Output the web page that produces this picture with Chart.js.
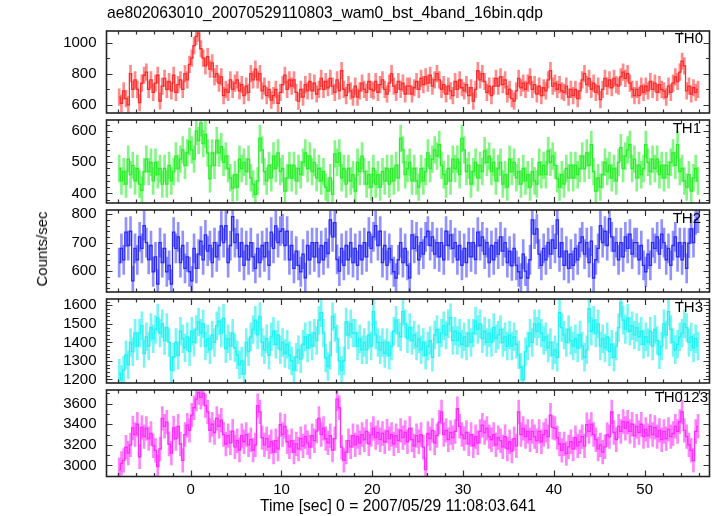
<!DOCTYPE html>
<html>
<head>
<meta charset="utf-8">
<script src="https://cdn.jsdelivr.net/npm/chart.js@4/dist/chart.umd.min.js"></script>
<style>
  html, body { margin: 0; padding: 0; background: #fff; }
  #wrap { position: relative; width: 717px; height: 516px; background: #fff; overflow: hidden;
          font-family: "Liberation Sans", Arial, Helvetica, sans-serif; color: #000; }
  canvas { position: absolute; left: 0; }
  .txt { position: absolute; font-size: 15px; line-height: 18px; white-space: nowrap; z-index: 5; }
  .big { font-size: 15.7px; }
</style>
</head>
<body>
<div id="wrap">
  <canvas id="c0" width="717" height="120"></canvas>
  <canvas id="c1" width="717" height="121"></canvas>
  <canvas id="c2" width="717" height="120"></canvas>
  <canvas id="c3" width="717" height="122"></canvas>
  <canvas id="c4" width="717" height="145"></canvas>
  <div class="txt big" id="title" style="left:107px; top:4px;"></div>
  <div class="txt" id="ytitle" style="left:41.5px; top:248.5px; transform:translate(-50%,-50%) rotate(-90deg);"></div>
  <div class="txt big" id="xtitle" style="left:260px; top:497px;"></div>
  <div class="txt" id="lab0" style="right:14px; top:29px;"></div>
  <div class="txt" id="lab1" style="right:16px; top:119px;"></div>
  <div class="txt" id="lab2" style="right:16px; top:209px;"></div>
  <div class="txt" id="lab3" style="right:14px; top:298px;"></div>
  <div class="txt" id="lab4" style="right:9px; top:388px;"></div>
</div>
<script>
// ---------- text ----------
const TITLE = "ae802063010_20070529110803_wam0_bst_4band_16bin.qdp";
const Y_TITLE = "Counts/sec";
const X_TITLE = "Time [sec] 0 = 2007/05/29 11:08:03.641";
const SERIES_NAMES = ["TH0", "TH1", "TH2", "TH3", "TH0123"];

// ---------- time bins (0.25 s bins, first bin centre) ----------
const BIN_START = -7.875;
const BIN_WIDTH = 0.25;

// ---------- series values (counts/sec), 4 bins per second from t=-8 ----------
const TH0 = [
 650,610,690,640, 600,800,700,760, 700,615,740,790, 810,700,760,680,
 740,790,625,720, 770,700,750,690, 790,680,730,760, 700,800,760,860,
 900,980,1040,1060, 960,900,850,910, 830,870,780,800, 740,780,660,700,
 680,760,700,740, 760,690,730,660, 720,680,800,760, 830,760,800,690,
 720,660,700,630, 660,700,610,680, 730,790,700,760, 720,760,680,624,
 700,650,730,690, 750,690,740,670, 700,770,700,750, 710,770,720,680,
 760,690,820,700, 660,730,690,650, 720,650,690,740, 700,680,750,700,
 690,750,680,730, 760,700,670,740, 800,720,680,750, 700,740,670,720,
 720,670,710,750, 700,770,730,780, 740,790,720,760, 800,760,700,730,
 670,720,690,660, 750,700,760,710, 690,730,660,710, 624,700,820,760,
 800,750,680,720, 660,720,770,720, 780,730,760,670, 700,640,624,690,
 770,710,740,700, 740,780,700,730, 670,720,660,710, 690,760,820,720,
 740,700,730,690, 680,720,650,700, 660,700,640,690, 760,800,730,770,
 700,740,680,720, 634,700,770,720, 760,710,770,730, 720,780,810,770,
 800,740,700,660, 700,660,720,680, 720,690,750,700, 740,680,730,700,
 690,650,720,680, 740,780,750,810, 880,850,690,720, 670,710,680,700
];
const TH1 = [
 480,440,470,430, 510,460,490,440, 480,430,410,470, 510,470,500,440,
 500,460,480,430, 480,430,490,440, 470,520,480,510, 540,490,530,567,
 540,510,600,570, 627,560,590,530, 447,530,490,570, 530,550,500,520,
 480,450,417,460, 420,510,480,500, 470,510,450,430, 397,440,577,540,
 470,440,490,450, 520,480,530,470, 480,407,450,490, 450,490,440,480,
 460,500,530,480, 520,470,500,450, 480,440,470,420, 407,450,397,527,
 500,530,450,480, 430,480,440,460, 407,500,470,520, 470,430,460,420,
 480,430,460,420, 470,440,480,430, 480,440,490,450, 577,540,460,480,
 500,440,480,440, 420,480,440,470, 530,480,510,540, 520,557,490,460,
 430,480,440,510, 480,510,460,577, 540,470,490,430, 470,500,450,490,
 470,537,500,520, 470,500,440,480, 500,430,460,420, 510,470,500,450,
 470,430,480,440, 460,420,470,440, 430,500,460,490, 460,537,500,520,
 490,447,420,460, 430,480,450,490, 450,490,460,480, 520,480,530,490,
 557,470,407,450, 420,460,500,470, 490,450,480,440, 500,547,480,520,
 540,557,480,510, 450,490,460,480, 557,500,470,510, 480,510,460,490,
 450,490,460,500, 530,490,557,470, 480,440,420,460, 407,450,480,440
];
const TH2 = [
 630,680,640,737, 690,740,566,680, 640,720,680,760, 700,641,690,598,
 650,555,700,630, 680,598,620,555, 737,680,720,630, 690,610,650,598,
 566,680,610,660, 705,640,727,670, 690,630,700,650, 690,759,700,760,
 630,690,791,700, 730,650,700,620, 690,640,700,650, 610,680,630,690,
 650,700,620,737, 680,759,700,740, 748,690,740,640, 690,610,670,620,
 598,660,577,690, 640,700,650,700, 630,690,640,700, 662,780,720,770,
 641,600,680,620, 690,640,700,630, 680,620,690,640, 700,650,737,680,
 720,760,690,740, 630,690,620,680, 640,598,576,640, 700,630,680,620,
 577,727,680,720, 640,700,660,720, 740,690,720,660, 700,650,700,640,
 740,690,727,680, 700,640,690,620, 680,630,700,650, 700,641,737,690,
 720,660,700,630, 690,640,700,660, 720,670,700,630, 670,619,680,620,
 598,576,660,600, 576,640,780,730, 748,660,620,680, 640,700,660,710,
 680,780,650,700, 620,670,610,660, 620,680,640,700, 720,660,700,630,
 705,576,640,680, 760,700,740,690, 784,720,670,700, 640,700,650,720,
 680,730,660,700, 700,640,690,620, 598,660,620,700, 680,720,660,730,
 700,640,680,620, 690,720,650,700, 640,700,610,698, 748,700,780,786
];
const TH3 = [
 1233,1200,1250,1333, 1280,1400,1350,1450, 1380,1450,1490,1340, 1430,1380,1480,1420,
 1470,1532,1450,1500, 1410,1480,1400,1250, 1320,1400,1330,1460, 1420,1370,1430,1350,
 1460,1400,1470,1510, 1450,1500,1380,1420, 1360,1440,1400,1490, 1515,1450,1530,1366,
 1420,1380,1450,1370, 1333,1280,1300,1230, 1400,1350,1430,1470, 1520,1440,1540,1400,
 1360,1420,1330,1430, 1460,1390,1440,1360, 1400,1340,1390,1330, 1300,1250,1320,1360,
 1310,1390,1430,1370, 1440,1380,1450,1410, 1520,1560,1450,1316, 1270,1330,1540,1480,
 1420,1300,1250,1300, 1510,1440,1500,1450, 1450,1380,1420,1360, 1400,1360,1440,1380,
 1566,1440,1400,1360, 1400,1340,1400,1330, 1380,1460,1520,1450, 1430,1566,1500,1420,
 1480,1410,1440,1380, 1420,1360,1400,1330, 1380,1410,1320,1440, 1470,1400,1450,1490,
 1440,1500,1533,1410, 1460,1410,1450,1390, 1430,1380,1450,1400, 1450,1515,1470,1500,
 1420,1460,1400,1450, 1400,1480,1420,1440, 1470,1400,1430,1380, 1440,1380,1430,1390,
 1333,1266,1200,1350, 1380,1450,1400,1500, 1460,1500,1450,1410, 1430,1370,1400,1330,
 1360,1320,1560,1480, 1440,1400,1470,1410, 1380,1420,1370,1440, 1380,1320,1360,1582,
 1460,1520,1450,1500, 1380,1420,1370,1430, 1350,1390,1320,1380, 1480,1615,1520,1470,
 1530,1460,1490,1440, 1480,1430,1460,1390, 1430,1400,1460,1380, 1470,1410,1333,1380,
 1500,1440,1566,1470, 1400,1360,1390,1430, 1450,1500,1480,1400, 1430,1370,1420,1380
];
const TH0123 = [
 2959,3020,3050,3177, 3120,3200,3364,3300, 3400,3084,3370,3280, 3360,3260,3310,3190,
 3146,2990,3160,3457, 3380,3420,3208,3120, 3364,3260,3380,3208, 3050,3300,3390,3340,
 3488,3560,3644,3706, 3660,3700,3581,3520, 3340,3400,3320,3457, 3380,3440,3300,3208,
 3290,3220,3333,3180, 3240,3150,3290,3230, 3300,3200,3250,3150, 3200,3581,3520,3270,
 3200,3260,3180,3230, 3130,3240,3160,3395, 3300,3380,3230,3180, 3240,3130,3210,3160,
 3260,3190,3280,3220, 3180,3290,3240,3333, 3457,3300,3360,3260, 3220,3290,3150,3260,
 3644,3560,3177,3050, 3130,3240,3180,3290, 3200,3280,3220,3300, 3250,3330,3210,3300,
 3360,3270,3320,3250, 3310,3230,3333,3260, 3300,3210,3290,3240, 3340,3270,3320,3230,
 3360,3250,3190,3290, 3230,3300,3177,2959, 3310,3260,3340,3220, 3290,3420,3519,3300,
 3340,3250,3320,3270, 3330,3550,3380,3300, 3260,3320,3210,3300, 3190,3280,3220,3330,
 3390,3320,3360,3280, 3250,3300,3200,3270, 3240,3180,3280,3160, 3230,3140,3260,3190,
 3519,3300,3360,3280, 3330,3250,3330,3280, 3240,3330,3230,3300, 3340,3280,3488,3370,
 3360,3270,3208,3146, 3210,3115,3180,3230, 3160,3270,3190,3230, 3280,3190,3395,3330,
 3400,3300,3250,3160, 3200,3130,3180,3300, 3280,3519,3320,3250, 3380,3330,3426,3360,
 3420,3330,3400,3290, 3380,3320,3400,3280, 3350,3290,3380,3300, 3370,3280,3340,3250,
 3330,3260,3350,3280, 3310,3380,3330,3426, 3519,3340,3280,3200, 3146,3050,3330,3380
];

// ---------- 1-sigma errors (counts/sec) ----------
const ERRORS = [53, 43, 51, 75, 115];

// ---------- axis ranges and ticks ----------
const X_MIN = -9.27, X_MAX = 57.14, X_MINOR = 2, X_MAJOR = 10;
const Y_MIN = [548, 369, 527, 1181, 2893];
const Y_MAX = [1074, 636, 814.5, 1634, 3732];
const Y_MINOR = [100, 20, 20, 20, 100];
const Y_MAJOR = [200, 100, 100, 100, 200];

// ---------- styles ----------
const LINE_COLORS = ['#ff2a2a', '#2aee2a', '#2a2aff', '#22f2f2', '#ff2aff'];
const ERR_COLORS = ['rgba(255,60,60,0.6)', 'rgba(50,240,50,0.6)', 'rgba(55,55,255,0.55)',
                    'rgba(30,240,240,0.6)', 'rgba(255,50,255,0.6)'];
const SERIES = [TH0, TH1, TH2, TH3, TH0123];

// panel frame geometry
const PANEL_EDGES = [27.5, 116.5, 206.5, 295.5, 386.5, 476.5];
const CANVAS_TOPS = [12, 101, 191, 280, 371];
const FONT = {family: '"Liberation Sans", Arial, Helvetica, sans-serif', size: 15};

document.getElementById('title').textContent = TITLE;
document.getElementById('ytitle').textContent = Y_TITLE;
document.getElementById('xtitle').textContent = X_TITLE;
SERIES_NAMES.forEach((n, i) => document.getElementById('lab' + i).textContent = n);

const frameTicks = {
  id: 'frameTicks',
  afterDraw(chart, args, opts) {
    const {ctx, chartArea: a} = chart;
    const x = chart.scales.x, y = chart.scales.y;
    ctx.save();
    ctx.strokeStyle = '#333';
    ctx.lineWidth = 1.2;
    ctx.beginPath();
    x.ticks.forEach(t => {
      const px = Math.round(x.getPixelForValue(t.value)) + 0.5;
      const len = (t.value % opts.xMajor === 0) ? 6 : 3.5;
      ctx.moveTo(px, a.bottom); ctx.lineTo(px, a.bottom - len);
      ctx.moveTo(px, a.top); ctx.lineTo(px, a.top + len);
    });
    y.ticks.forEach(t => {
      const py = Math.round(y.getPixelForValue(t.value)) + 0.5;
      const len = (t.value % opts.yMajor === 0) ? 6 : 3.5;
      ctx.moveTo(a.left, py); ctx.lineTo(a.left + len, py);
      ctx.moveTo(a.right, py); ctx.lineTo(a.right - len, py);
    });
    ctx.stroke();
    ctx.strokeStyle = '#222';
    ctx.lineWidth = 1.6;
    ctx.strokeRect(a.left, a.top, a.right - a.left, a.bottom - a.top);
    ctx.restore();
  }
};

SERIES.forEach((vals, i) => {
  const isBottom = i === SERIES.length - 1;
  const canvas = document.getElementById('c' + i);
  const top = CANVAS_TOPS[i];
  canvas.style.top = top + 'px';
  const padTop = PANEL_EDGES[i] - top;
  const padBottom = isBottom ? 0 : (top + canvas.height) - PANEL_EDGES[i + 1];
  const times = vals.map((v, k) => BIN_START + k * BIN_WIDTH);
  const err = ERRORS[i];

  new Chart(canvas, {
    type: 'bar',
    data: {
      datasets: [
        {
          type: 'line',
          order: 0,
          data: vals.map((v, k) => ({x: times[k], y: v})),
          borderColor: LINE_COLORS[i],
          borderWidth: 1.3,
          stepped: 'middle',
          pointRadius: 0,
          fill: false
        },
        {
          type: 'bar',
          order: 1,
          data: vals.map((v, k) => ({x: times[k], y: [v - err, v + err]})),
          backgroundColor: ERR_COLORS[i],
          borderWidth: 0,
          barThickness: 2,
          grouped: false
        }
      ]
    },
    options: {
      responsive: false,
      animation: false,
      devicePixelRatio: 1,
      events: [],
      layout: {padding: {top: padTop, bottom: padBottom, left: 0, right: 717 - 709.5}},
      plugins: {
        legend: {display: false},
        tooltip: {enabled: false},
        title: {display: false},
        frameTicks: {xMajor: X_MAJOR, yMajor: Y_MAJOR[i]}
      },
      scales: {
        x: {
          type: 'linear',
          min: X_MIN, max: X_MAX,
          offset: false,
          display: isBottom,
          grid: {display: false, drawTicks: false},
          border: {display: false},
          ticks: {
            stepSize: X_MINOR,
            includeBounds: false,
            autoSkip: false,
            maxRotation: 0,
            padding: 4,
            color: '#000',
            font: FONT,
            callback: (v) => (v % X_MAJOR === 0 ? String(v) : '')
          },
          afterFit: (s) => { if (isBottom) { s.height = 516 - PANEL_EDGES[5]; } else { s.height = 0; } }
        },
        y: {
          type: 'linear',
          min: Y_MIN[i], max: Y_MAX[i],
          grid: {display: false, drawTicks: false},
          border: {display: false},
          ticks: {
            stepSize: Y_MINOR[i],
            includeBounds: false,
            autoSkip: false,
            padding: 10,
            color: '#000',
            font: FONT,
            callback: (v) => (v % Y_MAJOR[i] === 0 ? String(v) : '')
          },
          afterFit: (s) => { s.width = 106.5; }
        }
      }
    },
    plugins: [frameTicks]
  });
});
</script>
</body>
</html>
